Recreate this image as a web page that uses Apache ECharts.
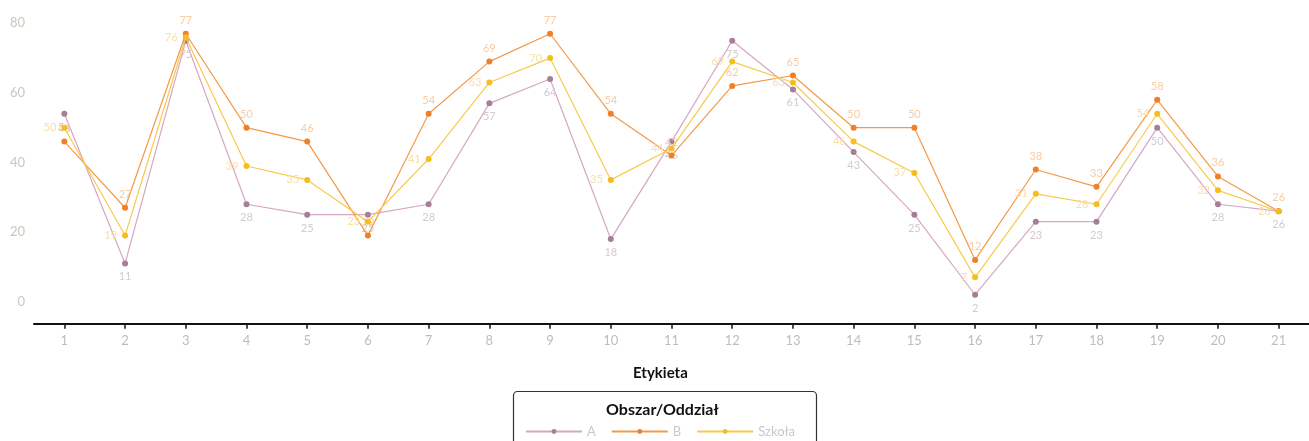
<!DOCTYPE html>
<html>
<head>
<meta charset="utf-8">
<script src="https://cdn.jsdelivr.net/npm/echarts@6/dist/echarts.min.js"></script>
<style>
html,body{margin:0;padding:0;background:#fff;}
#chart{width:1309px;height:441px;}
</style>
</head>
<body>
<div id="chart"></div>
<script>
const categories = ['1','2','3','4','5','6','7','8','9','10','11','12','13','14','15','16','17','18','19','20','21'];
const seriesA = [54,11,75,28,25,25,28,57,64,18,46,75,61,43,25,2,23,23,50,28,26];
const seriesB = [46,27,77,50,46,19,54,69,77,54,42,62,65,50,50,12,38,33,58,36,26];
const seriesS = [50,19,76,39,35,23,41,63,70,35,44,69,63,46,37,7,31,28,54,32,26];
const yTicks = [0,20,40,60,80];
const seriesNames = ['A','B','Szkoła'];
const xTitle = 'Etykieta';
const legendTitle = 'Obszar/Oddział';

const FONT = 'Lato, "Noto Sans", sans-serif';
const chart = echarts.init(document.getElementById('chart'), null, {renderer:'canvas'});

function mkSeries(name, data, lineColor, markerColor, labelColor, labelPos, z){
  return {
    name: name,
    type: 'line',
    data: data,
    z: z,
    symbol: 'circle',
    symbolSize: 6,
    showSymbol: true,
    lineStyle: {color: lineColor, width: 1.2},
    itemStyle: {color: markerColor},
    label: {show: true, position: labelPos, distance: 5, color: labelColor, fontSize: 11, fontFamily: FONT},
    emphasis: {disabled: true},
    animation: false
  };
}

chart.setOption({
  animation: false,
  grid: {left: 34, top: 23.3, bottom: 139.3, right: -11, containLabel: false},
  xAxis: {
    type: 'category',
    data: categories,
    boundaryGap: true,
    offset: 22,
    axisLine: {show: true, onZero: false, lineStyle: {color: '#111', width: 2}},
    axisTick: {show: true, alignWithLabel: true, length: 5, lineStyle: {color: '#111', width: 1.5}},
    axisLabel: {color: '#bdbdbd', fontSize: 13, fontFamily: FONT, margin: 11},
    splitLine: {show: false}
  },
  yAxis: {
    type: 'value',
    min: 0, max: 80, interval: 20,
    axisLine: {show: false},
    axisTick: {show: false},
    axisLabel: {color: '#cdc5bb', fontSize: 13, fontFamily: FONT, margin: 9,
      formatter: v => yTicks.includes(v) ? String(v) : ''},
    splitLine: {show: false}
  },
  legend: {
    show: true,
    data: seriesNames,
    left: 520,
    top: 420,
    itemWidth: 56,
    itemHeight: 6,
    itemGap: 15,
    textStyle: {color: '#c8c8c8', fontSize: 13, fontFamily: FONT},
    selectedMode: false
  },
  graphic: [
    {type: 'text', left: 633, top: 366, style: {text: xTitle, fill: '#111', font: 'bold 15px ' + FONT}},
    {type: 'rect', shape: {x: 513.5, y: 391.5, width: 303, height: 60, r: 4}, style: {fill: 'none', stroke: '#333', lineWidth: 1.2}},
    {type: 'text', left: 606, top: 402, style: {text: legendTitle, fill: '#111', font: 'bold 16px ' + FONT}}
  ],
  series: [
    mkSeries(seriesNames[0], seriesA, '#d7a6c2', '#a57f98', '#d2cbd0', 'bottom', 2),
    mkSeries(seriesNames[1], seriesB, '#f29a4a', '#f07f26', '#f8cca4', 'top', 3),
    mkSeries(seriesNames[2], seriesS, '#f8c94a', '#f6bd1d', '#f8e0a6', 'left', 4)
  ]
});
</script>
</body>
</html>
